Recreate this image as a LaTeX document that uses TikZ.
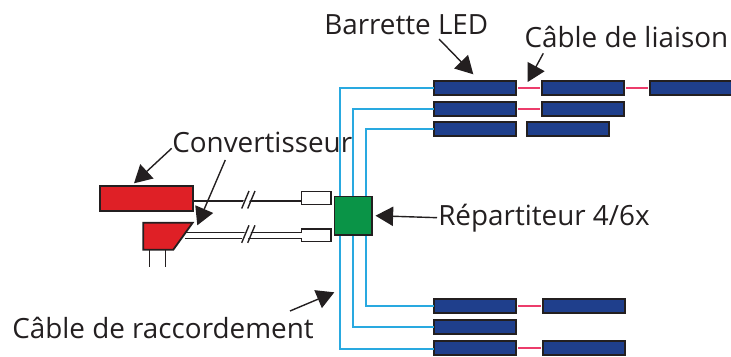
\documentclass[tikz,border=0pt]{standalone}
\usepackage{fontspec}
\setmainfont{Open Sans}
\usetikzlibrary{arrows.meta,calc}
\definecolor{ledblue}{RGB}{31,63,140}
\definecolor{cableblue}{RGB}{41,169,224}
\definecolor{linkpink}{RGB}{236,60,107}
\definecolor{convred}{RGB}{223,32,38}
\definecolor{repgreen}{RGB}{10,148,71}
\definecolor{inkdark}{RGB}{35,31,32}

\begin{document}
\begin{tikzpicture}[x=0.25mm, y=-0.25mm, >=Latex,
  font=\fontsize{19.8}{23}\selectfont,
  ledbar/.style={draw=inkdark, line width=0.4mm, fill=ledblue, inner sep=0pt, outer sep=0pt,
                 minimum width=20.4mm, minimum height=3.4mm},
  plug/.style={draw=inkdark, line width=0.4mm, fill=white, inner sep=0pt, outer sep=0pt,
               minimum width=7.4mm, minimum height=3.2mm},
  cable/.style={draw=cableblue, line width=0.42mm},
  liaison/.style={draw=linkpink, line width=0.45mm, shorten >=0.6mm, shorten <=0.6mm},
  wire/.style={draw=inkdark, line width=0.4mm},
  txt/.style={anchor=base west, inner sep=0pt, text=inkdark},
  callout/.style={draw=inkdark, line width=0.35mm, -{Triangle[length=4.4mm, width=4.8mm]}}]
\useasboundingbox (0,0) rectangle (731,356);

% --- led strips ---
\foreach \n/\x/\y in {ledA/475/88, ledB/583/88, ledC/691/88,
                      ledD/475/109, ledE/583/109,
                      ledF/475/129, ledG/568/129,
                      ledH/475/306, ledI/584/306,
                      ledJ/475/327,
                      ledK/475/348, ledL/584/348}{
  \node[ledbar] (\n) at (\x,\y) {};
}
\foreach \a/\b in {ledA/ledB, ledB/ledC, ledD/ledE, ledH/ledI, ledK/ledL}{ \draw[liaison] (\a) -- (\b); }

% --- splitter and the cables leaving it ---
\coordinate (outA) at (340,196);
\coordinate (outB) at (353.3,196);
\coordinate (outC) at (366,196);
\coordinate (outD) at (340,235);
\coordinate (outE) at (353.3,235);
\coordinate (outF) at (366,235);
\draw[cable] (outA) |- (ledA.west);
\draw[cable] (outB) |- (ledD.west);
\draw[cable] (outC) |- (ledF.west);
\draw[cable] (outF) |- (ledH.west);
\draw[cable] (outE) |- (ledJ.west);
\draw[cable] (outD) |- ($(ledK.west)+(0,1.3)$);
\node[draw=inkdark, line width=0.4mm, fill=repgreen, inner sep=0pt, outer sep=0pt,
      minimum width=9.4mm, minimum height=9.6mm] (rep) at (353.2,215.7) {};

% --- plugs ---
\node[plug] (plugA) at (316.4,198) {};
\node[plug] (plugB) at (316.4,235.2) {};

% --- converters, wires first so the red sits on top ---
\coordinate (inA) at (plugA.west |- 0,201);
\coordinate (inB) at (185,235.3);
\node[draw=inkdark, line width=0.45mm, fill=convred, inner sep=0pt, outer sep=0pt,
      minimum width=23.2mm, minimum height=6.2mm] (convA) at (146.3,198.7) {};
\draw[wire] (inA -| convA.east) -- (inA);
\draw[wire, line width=0.35mm, double=white, double distance=1.15mm] (inB) -- (plugB.west |- inB);
\draw[draw=inkdark, line width=0.45mm, fill=convred] (143.3,222.7) -- (192.7,222.7) -- (173.3,249.7) -- (143.3,249.7) -- cycle;
\draw[draw=inkdark, line width=0.35mm] (149.7,249.7) -- (149.7,266.7);
\draw[draw=inkdark, line width=0.35mm] (165.7,249.7) -- (165.7,266.7);

% --- the cuts in both wires ---
\foreach \y in {201,235.3}{
  \fill[white] (245,\y-3.5) -- (251,\y-3.5) -- (248,\y+3.5) -- (242,\y+3.5) -- cycle;
  \draw[draw=inkdark, line width=0.35mm] (241.7,\y+7.5) -- (249,\y-10);
  \draw[draw=inkdark, line width=0.35mm] (247.7,\y+7.5) -- (255,\y-10);
}

% --- labels ---
\node[txt] (lbar) at (324,34.7) {Barrette LED};
\node[txt] (llia) at (524.3,47.7) {Câble de liaison};
\node[txt] (lconv) at (172,152.7) {Convertisseur};
\node[txt] (lrep) at (438,225) {Répartiteur 4/6x};
\node[txt] (lrac) at (12,338) {Câble de raccordement};

% --- callouts ---
\coordinate (fromA) at (171.7,148.3);
\coordinate (tipA) at (134,183.3);
\coordinate (fromB) at (225.3,160);
\coordinate (tipB) at (197.3,225.3);
\coordinate (fromC) at (439,39);
\coordinate (tipC) at (473.3,74.3);
\coordinate (fromD) at (543.3,53.3);
\coordinate (tipD) at (527.7,82);
\coordinate (fromF) at (290,311);
\coordinate (tipF) at (334.3,292.3);
\draw[callout] (fromA) -- (tipA);
\draw[callout] (fromB) -- (tipB);
\draw[callout] (fromC) -- (tipC);
\draw[callout] (fromD) -- (tipD);
\draw[callout] (lrep.west) ++(-1,0) -- ($(rep.east)+(3.5,0)$);
\draw[callout] (fromF) -- (tipF);
\end{tikzpicture}
\end{document}
